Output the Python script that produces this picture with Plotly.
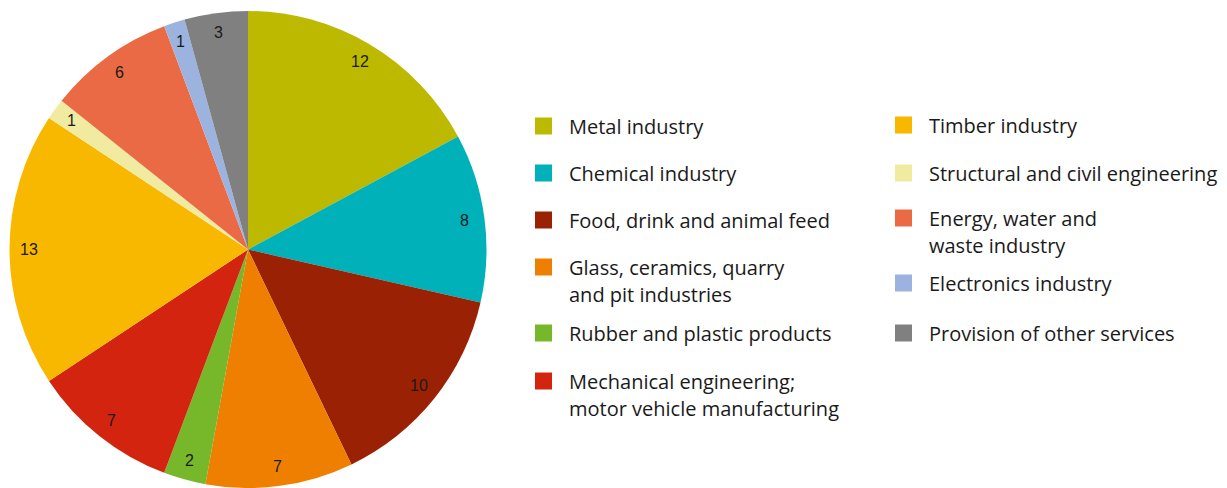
import math
import plotly.graph_objects as go

# ---- data ----
categories = [
    "Metal industry",
    "Chemical industry",
    "Food, drink and animal feed",
    "Glass, ceramics, quarry<br>and pit industries",
    "Rubber and plastic products",
    "Mechanical engineering;<br>motor vehicle manufacturing",
    "Timber industry",
    "Structural and civil engineering",
    "Energy, water and<br>waste industry",
    "Electronics industry",
    "Provision of other services",
]
values = [12, 8, 10, 7, 2, 7, 13, 1, 6, 1, 3]
colors = [
    "#BDB800", "#00B1BA", "#9A2104", "#EE7F00", "#76B82A", "#D2240F",
    "#F9B800", "#F1EBA2", "#EA6A45", "#9CB3DF", "#808080",
]

OFF = 8  # page body margin
W, H = 1227 - OFF, 488 - OFF
fig = go.Figure()

def X(px):
    return (px - OFF) / W

def Y(py):
    return 1 - (py - OFF) / H

# pie geometry (screen pixels)
px0, px1 = 9, 487
py_top, py_bot = 11, 488
cx = (px0 + px1) / 2
cy = (py_top + py_bot) / 2
R = (px1 - px0) / 2

fig.add_trace(go.Pie(
    labels=[c.replace("<br>", " ") for c in categories],
    values=values,
    marker=dict(colors=colors, line=dict(width=0)),
    sort=False,
    direction="clockwise",
    rotation=0,
    textinfo="none",
    hoverinfo="label+value",
    showlegend=False,
    domain=dict(x=[X(px0), X(px1)], y=[max(0, Y(py_bot)), Y(py_top)]),
))

annotations = []
shapes = []

# value labels near outer edge of each slice
total = sum(values)
cum = 0
for v in values:
    mid = (cum + v / 2) / total * 2 * math.pi
    cum += v
    r = 0.915 * R
    x = cx + r * math.sin(mid)
    y = cy - r * math.cos(mid)
    annotations.append(dict(
        x=X(x), y=Y(y), xref="paper", yref="paper",
        text=str(v), showarrow=False,
        font=dict(family="Liberation Sans, Arial", size=16, color="#1a1a1a"),
        xanchor="center", yanchor="middle",
    ))

# custom two-column legend
col_sq_x = [535, 895]
col_tx_x = [567, 927]
row_y = [
    [126, 173, 220, 267, 333, 381],
    [125, 173, 218, 283, 333],
]
line_gap = 27
sq = 17
idx = 0
for col in range(2):
    for ry in row_y[col]:
        shapes.append(dict(
            type="rect", xref="paper", yref="paper",
            x0=X(col_sq_x[col]), x1=X(col_sq_x[col] + sq),
            y0=Y(ry + sq / 2), y1=Y(ry - sq / 2),
            fillcolor=colors[idx], line=dict(width=0),
        ))
        for li, line in enumerate(categories[idx].split("<br>")):
            annotations.append(dict(
                x=X(col_tx_x[col]), y=Y(ry + li * line_gap),
                xref="paper", yref="paper", text=line, showarrow=False,
                xanchor="left", yanchor="middle",
                font=dict(family="Open Sans, Noto Sans", size=20, color="#1a1a1a"),
            ))
        idx += 1

fig.update_layout(
    width=W, height=H,
    margin=dict(l=0, r=0, t=0, b=0),
    paper_bgcolor="white", plot_bgcolor="white",
    annotations=annotations, shapes=shapes,
)

fig.write_html("out.html")
